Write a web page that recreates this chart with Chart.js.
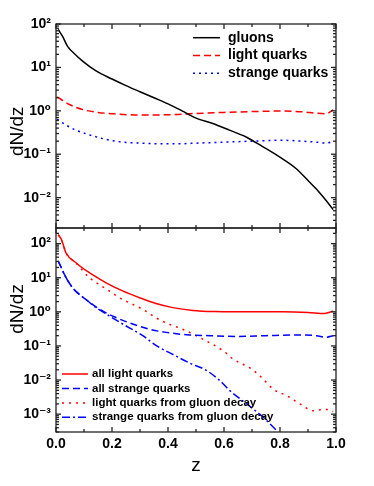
<!DOCTYPE html>
<html><head><meta charset="utf-8">
<script src="https://cdn.jsdelivr.net/npm/chart.js@4.4.1/dist/chart.umd.min.js"></script>
<style>html,body{margin:0;padding:0;background:#fff}#wrap{width:374px;height:486px;position:relative}</style>
</head><body><div id="wrap"><canvas id="c" width="374" height="486"></canvas></div>
<script>
// ---- data ----
const zGluon   = [0.008,0.024,0.042,0.065,0.095,0.143,0.2,0.25,0.3,0.35,0.4,0.45,0.5,0.56,0.619,0.679,0.738,0.798,0.857,0.905,0.929,0.964,0.99];
const vGluon   = [75,51,30,21,14,8.3,5.4,3.8,2.75,2.0,1.45,1.0,0.68,0.51,0.36,0.25,0.15,0.087,0.047,0.023,0.016,0.0087,0.0053];
const zLightT  = [0.004,0.048,0.1,0.15,0.2,0.3,0.42,0.5,0.6,0.7,0.8,0.88,0.93,0.965,0.99];
const vLightT  = [2.1,1.4,1.05,0.92,0.86,0.8,0.82,0.87,0.92,0.96,0.99,0.95,0.88,0.86,1.05];
const zStrT    = [0.004,0.036,0.071,0.119,0.179,0.238,0.3,0.357,0.45,0.5,0.6,0.7,0.8,0.88,0.93,0.965,0.99];
const vStrT    = [0.64,0.47,0.36,0.28,0.22,0.19,0.18,0.175,0.175,0.18,0.19,0.2,0.21,0.2,0.19,0.18,0.2];

const zAllLight = [0.008,0.02,0.036,0.071,0.119,0.179,0.238,0.298,0.357,0.417,0.488,0.57,0.69,0.81,0.9,0.96,0.99];
const vAllLight = [183,128,53,27.5,14,7.1,4.1,2.6,1.75,1.33,1.1,1.02,1.0,1.0,0.96,0.9,1.05];
const zAllStr   = [0.008,0.03,0.054,0.077,0.107,0.155,0.214,0.274,0.333,0.393,0.476,0.55,0.65,0.75,0.85,0.93,0.965,0.99];
const vAllStr   = [31,12.5,5.8,3.6,2.3,1.2,0.68,0.44,0.31,0.25,0.21,0.2,0.19,0.2,0.21,0.2,0.18,0.2];
const zLightG   = [0.008,0.02,0.036,0.071,0.119,0.155,0.19,0.226,0.268,0.31,0.357,0.405,0.452,0.514,0.598,0.633,0.699,0.74,0.776,0.824,0.871,0.919,0.961,0.99];
const vLightG   = [183,128,53,27.5,10,6.3,4.1,2.6,1.75,1.19,0.67,0.43,0.31,0.175,0.071,0.041,0.021,0.0107,0.0054,0.0035,0.002,0.00126,0.0014,0.0012];
const zStrG     = [0.008,0.03,0.054,0.077,0.107,0.143,0.19,0.238,0.31,0.36,0.42,0.479,0.538,0.586,0.621,0.681,0.74,0.788];
const vStrG     = [31,12.5,5.8,3.6,2.3,1.33,0.76,0.44,0.2,0.1,0.055,0.031,0.019,0.0095,0.0049,0.002,0.00081,0.00033];

const xTickVals  = [0,0.2,0.4,0.6,0.8,1.0];
const yTopTicks  = [0.01,0.1,1,10,100];
const yBotTicks  = [0.001,0.01,0.1,1,10,100];
const legendTop  = ['gluons','light quarks','strange quarks'];
const legendBot  = ['all light quarks','all strange quarks','light quarks from gluon decay','strange quarks from gluon decay'];

const FONT = "'Liberation Sans', Arial, 'DejaVu Sans', sans-serif";
const sup = {'-':'\u207B','0':'\u2070','1':'\u00B9','2':'\u00B2','3':'\u00B3'};
function fmt(v){const e=Math.round(Math.log10(v));return '10'+String(e).split('').map(c=>sup[c]).join('');}
function pts(zs,vs){return zs.map((z,i)=>({x:z,y:vs[i]}));}

function ds(label,zs,vs,color,dash,axis){
  return {label,data:pts(zs,vs),borderColor:color,backgroundColor:color,borderWidth:1.5,
    borderDash:dash,pointRadius:0,cubicInterpolationMode:'monotone',yAxisID:axis,fill:false};
}
const datasets=[
  ds(legendTop[0],zGluon,vGluon,'#000000',[],'yTop'),
  ds(legendTop[1],zLightT,vLightT,'#ff0000',[7,4],'yTop'),
  ds(legendTop[2],zStrT,vStrT,'#0000ff',[2,4],'yTop'),
  ds(legendBot[0],zAllLight,vAllLight,'#ff0000',[],'yBot'),
  ds(legendBot[1],zAllStr,vAllStr,'#0000ff',[7,4],'yBot'),
  ds(legendBot[2],zLightG,vLightG,'#ff0000',[2,5],'yBot'),
  ds(legendBot[3],zStrG,vStrG,'#0000ff',[8,3,2,3],'yBot')
];

function yAxis(min,max,tickVals,title){
  return {type:'logarithmic',position:'left',stack:'panels',stackWeight:1,min,max,
    afterBuildTicks:s=>{s.ticks=tickVals.map(v=>({value:v}));},
    afterFit:s=>{s.width=56;},
    ticks:{callback:v=>fmt(v),font:{family:FONT,size:14,weight:'bold'},color:'#000',padding:5,autoSkip:false},
    grid:{display:false,drawTicks:false},border:{display:false},
    title:{display:true,text:title,font:{family:FONT,size:19},color:'#000',padding:{top:6,bottom:0}}};
}

const framePlugin={id:'frame',afterDatasetsDraw(chart){
  const ctx=chart.ctx,x=chart.scales.x,L=chart.chartArea.left,R=chart.chartArea.right;
  ctx.save();ctx.strokeStyle='#222';ctx.lineWidth=1.3;ctx.setLineDash([]);
  const line=(a,b,c,d)=>{ctx.beginPath();ctx.moveTo(a,b);ctx.lineTo(c,d);ctx.stroke();};
  for(const id of ['yTop','yBot']){
    const s=chart.scales[id],T=s.top,B=s.bottom;
    ctx.strokeRect(L,T,R-L,B-T);
    for(let i=0;i<=10;i++){const px=x.getPixelForValue(i/10);const len=i%2?3:5;line(px,T,px,T+len);line(px,B,px,B-len);}
    const lo=Math.floor(Math.log10(s.min)),hi=Math.ceil(Math.log10(s.max));
    for(let e=lo;e<=hi;e++)for(let m=1;m<10;m++){const v=m*Math.pow(10,e);if(v<s.min||v>s.max)continue;
      const py=s.getPixelForValue(v);const len=m===1?5:3;line(L,py,L+len,py);line(R,py,R-len,py);}
  }
  ctx.restore();
},afterDraw(chart){
  const ctx=chart.ctx;const d=chart.data.datasets;
  ctx.save();ctx.textBaseline='middle';ctx.fillStyle='#000';
  const item=(dsI,x1,x2,tx,y,size)=>{
    const s=d[dsI];ctx.strokeStyle=s.borderColor;ctx.lineWidth=1.5;ctx.setLineDash(s.borderDash);
    ctx.beginPath();ctx.moveTo(x1,y);ctx.lineTo(x2,y);ctx.stroke();
    ctx.font='bold '+size+'px '+FONT;ctx.fillText(s.label,tx,y);
  };
  const tYs=[37.7,55.5,73.3];
  for(let i=0;i<3;i++)item(i,193,220,228,tYs[i],14);
  const bYs=[374,388.5,403,417.3];
  for(let i=0;i<4;i++)item(3+i,62,88,92,bYs[i],11.5);
  ctx.restore();
}};

new Chart(document.getElementById('c'),{
  type:'line',
  data:{datasets},
  options:{responsive:false,animation:false,devicePixelRatio:1,
    layout:{padding:{top:24,right:38,left:0,bottom:0}},
    plugins:{legend:{display:false},tooltip:{enabled:false}},
    scales:{
      x:{type:'linear',position:'bottom',min:0,max:1,
        afterBuildTicks:s=>{s.ticks=xTickVals.map(v=>({value:v}));},
        afterFit:s=>{s.height=54;},
        ticks:{callback:v=>v.toFixed(1),font:{family:FONT,size:14,weight:'bold'},color:'#000',padding:4,maxRotation:0,autoSkip:false},
        grid:{display:false,drawTicks:false},border:{display:false},
        title:{display:true,text:'z',font:{family:FONT,size:19},color:'#000',padding:{top:9,bottom:9}}},
      yBot:yAxis(3.19e-4,287,yBotTicks,'        dN/dz'),
      yTop:yAxis(0.002,100,yTopTicks,'dN/dz  ')
    }
  },
  plugins:[framePlugin]
});
</script></body></html>
